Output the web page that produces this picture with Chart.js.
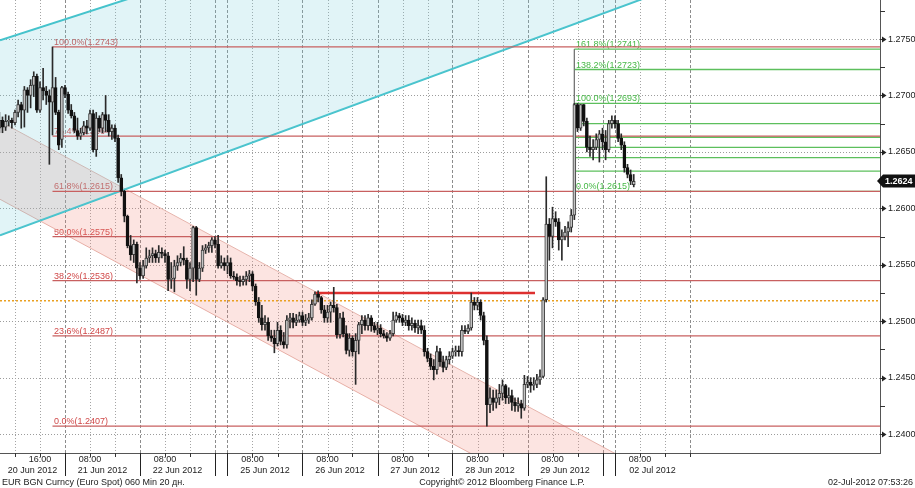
<!DOCTYPE html>
<html><head><meta charset="utf-8">
<script src="https://cdn.jsdelivr.net/npm/chart.js@4.4.1/dist/chart.umd.min.js"></script>
<style>html,body{margin:0;padding:0;background:#fff;overflow:hidden}canvas{display:block}</style>
</head><body>
<canvas id="c" width="915" height="488"></canvas>
<script>
// ---- DATA (EUR BGN Curncy, 60 min bars; hour index on the trading-time axis, 0 = 20 Jun 2012 00:00) ----
const FIRST_BAR_HOUR = 3;
const opens = [
1.2671,1.2678,1.2672,1.2677,1.2678,1.2676,1.2685,1.2692,1.2687,1.2705,
1.2700,1.2709,1.2717,1.2687,1.2707,1.2704,1.2700,1.2694,1.2707,1.2685,
1.2661,1.2707,1.2701,1.2687,1.2682,1.2669,1.2664,1.2667,1.2673,1.2671,
1.2684,1.2652,1.2680,1.2671,1.2683,1.2678,1.2668,1.2671,1.2662,1.2627,
1.2615,1.2593,1.2567,1.2559,1.2568,1.2547,1.2540,1.2549,1.2556,1.2558,
1.2560,1.2556,1.2561,1.2560,1.2558,1.2537,1.2538,1.2549,1.2552,1.2556,
1.2554,1.2537,1.2547,1.2583,1.2537,1.2547,1.2563,1.2565,1.2567,1.2572,
1.2568,1.2549,1.2552,1.2549,1.2552,1.2540,1.2539,1.2536,1.2535,1.2537,
1.2540,1.2542,1.2531,1.2517,1.2503,1.2497,1.2499,1.2487,1.2485,1.2480,
1.2492,1.2482,1.2479,1.2501,1.2503,1.2499,1.2501,1.2505,1.2499,1.2501,
1.2503,1.2515,1.2524,1.2521,1.2510,1.2503,1.2508,1.2514,1.2512,1.2488,
1.2503,1.2489,1.2474,1.2485,1.2473,1.2483,1.2497,1.2501,1.2496,1.2503,
1.2496,1.2492,1.2494,1.2489,1.2487,1.2485,1.2489,1.2501,1.2505,1.2503,
1.2499,1.2501,1.2496,1.2498,1.2494,1.2496,1.2492,1.2473,1.2467,1.2460,
1.2457,1.2473,1.2464,1.2459,1.2466,1.2469,1.2473,1.2474,1.2473,1.2492,
1.2491,1.2494,1.2517,1.2514,1.2517,1.2505,1.2483,1.2426,1.2432,1.2428,
1.2432,1.2436,1.2443,1.2432,1.2434,1.2428,1.2425,1.2427,1.2423,1.2444,
1.2446,1.2443,1.2444,1.2448,1.2451,1.2519,1.2586,1.2575,1.2591,1.2588,
1.2572,1.2575,1.2579,1.2583,1.2594,1.2692,1.2671,1.2692,1.2677,1.2654,
1.2652,1.2654,1.2661,1.2666,1.2659,1.2652,1.2675,1.2678,1.2675,1.2662,
1.2656,1.2636,1.2630,1.2621];
const highs = [
1.2685,1.2681,1.2683,1.2682,1.2680,1.2687,1.2696,1.2694,1.2708,1.2707,
1.2714,1.2721,1.2719,1.2712,1.2724,1.2708,1.2705,1.2743,1.2716,1.2687,
1.2708,1.2709,1.2703,1.2692,1.2685,1.2680,1.2671,1.2677,1.2678,1.2687,
1.2687,1.2685,1.2682,1.2685,1.2700,1.2683,1.2674,1.2674,1.2665,1.2630,
1.2616,1.2594,1.2576,1.2572,1.2570,1.2552,1.2554,1.2565,1.2563,1.2565,
1.2563,1.2567,1.2565,1.2563,1.2561,1.2552,1.2554,1.2558,1.2560,1.2566,
1.2556,1.2552,1.2584,1.2584,1.2552,1.2567,1.2568,1.2570,1.2574,1.2575,
1.2576,1.2558,1.2556,1.2558,1.2556,1.2544,1.2542,1.2540,1.2540,1.2544,
1.2545,1.2544,1.2533,1.2521,1.2514,1.2505,1.2503,1.2492,1.2492,1.2499,
1.2496,1.2490,1.2505,1.2507,1.2507,1.2506,1.2508,1.2508,1.2506,1.2507,
1.2519,1.2526,1.2527,1.2522,1.2514,1.2514,1.2517,1.2530,1.2515,1.2507,
1.2508,1.2496,1.2489,1.2487,1.2489,1.2499,1.2505,1.2505,1.2506,1.2505,
1.2499,1.2499,1.2497,1.2492,1.2490,1.2492,1.2508,1.2508,1.2507,1.2506,
1.2505,1.2505,1.2503,1.2501,1.2501,1.2501,1.2496,1.2476,1.2471,1.2466,
1.2478,1.2476,1.2469,1.2469,1.2473,1.2476,1.2478,1.2478,1.2496,1.2496,
1.2497,1.2525,1.2521,1.2521,1.2519,1.2508,1.2487,1.2441,1.2439,1.2439,
1.2444,1.2448,1.2444,1.2441,1.2439,1.2432,1.2432,1.2430,1.2452,1.2451,
1.2450,1.2450,1.2453,1.2457,1.2521,1.2628,1.2591,1.2601,1.2597,1.2591,
1.2581,1.2584,1.2588,1.2599,1.2693,1.2693,1.2692,1.2692,1.2680,1.2664,
1.2661,1.2666,1.2669,1.2671,1.2669,1.2678,1.2682,1.2682,1.2678,1.2666,
1.2659,1.2639,1.2634,1.2630];
const lows = [
1.2667,1.2667,1.2669,1.2673,1.2671,1.2674,1.2681,1.2671,1.2672,1.2685,
1.2689,1.2699,1.2685,1.2685,1.2696,1.2692,1.2639,1.2665,1.2683,1.2652,
1.2654,1.2698,1.2684,1.2680,1.2667,1.2661,1.2661,1.2665,1.2666,1.2669,
1.2650,1.2646,1.2668,1.2667,1.2668,1.2664,1.2661,1.2659,1.2623,1.2611,
1.2588,1.2565,1.2554,1.2552,1.2534,1.2537,1.2538,1.2547,1.2552,1.2552,
1.2552,1.2552,1.2556,1.2552,1.2527,1.2529,1.2526,1.2545,1.2549,1.2550,
1.2529,1.2527,1.2535,1.2523,1.2535,1.2544,1.2560,1.2561,1.2561,1.2565,
1.2547,1.2547,1.2545,1.2542,1.2538,1.2537,1.2532,1.2531,1.2532,1.2532,
1.2535,1.2527,1.2514,1.2499,1.2492,1.2492,1.2483,1.2482,1.2472,1.2478,
1.2479,1.2476,1.2476,1.2494,1.2494,1.2496,1.2499,1.2496,1.2496,1.2498,
1.2501,1.2514,1.2517,1.2507,1.2499,1.2499,1.2499,1.2508,1.2485,1.2485,
1.2486,1.2471,1.2469,1.2469,1.2444,1.2471,1.2489,1.2492,1.2492,1.2491,
1.2490,1.2488,1.2486,1.2485,1.2482,1.2483,1.2487,1.2499,1.2499,1.2496,
1.2496,1.2492,1.2492,1.2490,1.2489,1.2489,1.2469,1.2464,1.2457,1.2448,
1.2453,1.2460,1.2455,1.2457,1.2462,1.2467,1.2469,1.2469,1.2469,1.2489,
1.2489,1.2492,1.2510,1.2510,1.2501,1.2479,1.2407,1.2419,1.2421,1.2423,
1.2426,1.2430,1.2427,1.2427,1.2421,1.2420,1.2420,1.2414,1.2421,1.2441,
1.2437,1.2439,1.2441,1.2444,1.2450,1.2517,1.2554,1.2565,1.2584,1.2563,
1.2554,1.2572,1.2566,1.2579,1.2590,1.2668,1.2669,1.2673,1.2650,1.2646,
1.2643,1.2652,1.2641,1.2652,1.2643,1.2650,1.2671,1.2671,1.2659,1.2652,
1.2632,1.2627,1.2621,1.2619];
const closes = [
1.2678,1.2672,1.2677,1.2678,1.2676,1.2685,1.2692,1.2687,1.2705,1.2700,
1.2709,1.2717,1.2687,1.2707,1.2704,1.2700,1.2694,1.2707,1.2685,1.2656,
1.2707,1.2701,1.2687,1.2682,1.2669,1.2664,1.2667,1.2673,1.2671,1.2684,
1.2652,1.2680,1.2671,1.2683,1.2678,1.2668,1.2671,1.2662,1.2627,1.2615,
1.2593,1.2567,1.2559,1.2568,1.2547,1.2540,1.2549,1.2556,1.2558,1.2560,
1.2556,1.2561,1.2560,1.2558,1.2537,1.2538,1.2549,1.2552,1.2556,1.2554,
1.2537,1.2547,1.2583,1.2537,1.2547,1.2563,1.2565,1.2567,1.2572,1.2568,
1.2549,1.2552,1.2549,1.2552,1.2540,1.2539,1.2536,1.2535,1.2537,1.2540,
1.2542,1.2531,1.2517,1.2503,1.2497,1.2499,1.2487,1.2485,1.2480,1.2492,
1.2482,1.2479,1.2501,1.2503,1.2499,1.2501,1.2505,1.2499,1.2501,1.2503,
1.2515,1.2524,1.2521,1.2510,1.2503,1.2508,1.2514,1.2512,1.2488,1.2503,
1.2489,1.2474,1.2485,1.2473,1.2483,1.2497,1.2501,1.2496,1.2503,1.2496,
1.2492,1.2494,1.2489,1.2487,1.2485,1.2489,1.2501,1.2505,1.2503,1.2499,
1.2501,1.2496,1.2498,1.2494,1.2496,1.2492,1.2473,1.2467,1.2460,1.2457,
1.2473,1.2464,1.2459,1.2466,1.2469,1.2473,1.2474,1.2473,1.2492,1.2491,
1.2494,1.2517,1.2514,1.2517,1.2505,1.2483,1.2426,1.2432,1.2428,1.2432,
1.2436,1.2443,1.2432,1.2434,1.2428,1.2425,1.2427,1.2423,1.2444,1.2446,
1.2443,1.2444,1.2448,1.2451,1.2519,1.2586,1.2575,1.2591,1.2588,1.2572,
1.2575,1.2579,1.2583,1.2594,1.2692,1.2671,1.2692,1.2677,1.2654,1.2652,
1.2654,1.2661,1.2666,1.2659,1.2652,1.2675,1.2678,1.2675,1.2662,1.2656,
1.2636,1.2630,1.2624,1.2624];

// x-axis: trading days
const dayNames = ['20 Jun 2012','21 Jun 2012','22 Jun 2012','25 Jun 2012','26 Jun 2012','27 Jun 2012','28 Jun 2012','29 Jun 2012','02 Jul 2012'];
const dayStartHour = [0,24,48,76,100,124,148,172,200];
const dayEndHour = [24,48,72,100,124,148,172,196,224];
const dayTimeLabels = ['16:00','08:00','08:00','08:00','08:00','08:00','08:00','08:00','08:00'];
const dayTimeHour = [16,8,8,8,8,8,8,8,8];

// y-axis ticks
const priceTicks = [1.2400,1.2425,1.2450,1.2475,1.2500,1.2525,1.2550,1.2575,1.2600,1.2625,1.2650,1.2675,1.2700,1.2725,1.2750,1.2775];
const priceGrid = [1.2400,1.2450,1.2500,1.2550,1.2600,1.2650,1.2700,1.2750];

// Fibonacci retracement (red) and extension (green)
const redFibLevels = [1.2743,1.2664,1.2615,1.2575,1.2536,1.2487,1.2407];
const redFibLabels = ['100.0%(1.2743)','76.4%(1.2664)','61.8%(1.2615)','50.0%(1.2575)','38.2%(1.2536)','23.6%(1.2487)','0.0%(1.2407)'];
const redFibStartHour = 20;
const greenFibLevels = [1.2741,1.2723,1.2693,1.2675,1.2663,1.2654,1.2645,1.2633,1.2615];
const greenFibLabels = ['161.8%(1.2741)','138.2%(1.2723)','100.0%(1.2693)','','','','','','0.0%(1.2615)'];
const greenFibStartHour = 187;

// trend channels: [hour, price] endpoints
const cyanUpper = [[3.2,1.2749],[284.8,1.3000]];
const cyanLower = [[3.2,1.2576],[284.8,1.2863]];
const pinkUpper = [[3.2,1.2677],[284.8,1.2256]];
const pinkLower = [[3.2,1.2608],[284.8,1.2187]];

// horizontal levels
const resistanceLine = [[104.3,1.2525],[174.4,1.2525]];
const dottedLevel = 1.2518;

const footerLeft = 'EUR BGN Curncy (Euro Spot) 060 Min 20 дн.';
const footerMid = 'Copyright© 2012 Bloomberg Finance L.P.';
const footerRight = '02-Jul-2012 07:53:26';

// ---- CHART ----
const X_MIN = 3.2, X_MAX = 284.8, Y_MIN = 1.23832, Y_MAX = 1.27846;
const FONT = 'Liberation Sans, Arial, sans-serif';
const pts = arr => arr.map(p => ({x: p[0], y: p[1]}));
const hline = (h0, v) => [{x: h0, y: v}, {x: X_MAX, y: v}];

const bodies = opens.map((o, i) => ({x: FIRST_BAR_HOUR + i, y: [o, closes[i]]}));
const wicks = lows.map((l, i) => ({x: FIRST_BAR_HOUR + i, y: [l, highs[i]]}));
const isUp = i => closes[i] >= opens[i];

const lineDs = (data, color, width, order, extra) => Object.assign({
  type: 'line', data, borderColor: color, borderWidth: width, pointRadius: 0,
  tension: 0, fill: false, order
}, extra || {});

const datasets = [
  lineDs(pts(cyanUpper), '#45c3cc', 2, 6, {fill: '+1', backgroundColor: 'rgba(120,205,220,0.22)'}),
  lineDs(pts(cyanLower), '#45c3cc', 2, 6),
  lineDs(pts(pinkUpper), '#e6b4ac', 1, 7, {fill: '+1', backgroundColor: 'rgba(240,130,120,0.22)'}),
  lineDs(pts(pinkLower), '#e6b4ac', 1, 7),
];
redFibLevels.forEach(v => datasets.push(lineDs(hline(redFibStartHour, v), '#c86060', 1.3, 4)));
greenFibLevels.forEach(v => datasets.push(lineDs(hline(greenFibStartHour, v), '#5cbf5c', 1.3, 4)));
datasets.push(lineDs([{x: greenFibStartHour, y: greenFibLevels[0]}, {x: greenFibStartHour, y: greenFibLevels[greenFibLevels.length - 1]}], '#777', 1, 3));
datasets.push(lineDs(hline(X_MIN, dottedLevel), '#eaa020', 1.5, 4, {borderDash: [2, 2]}));
datasets.push(lineDs(pts(resistanceLine), '#dd3030', 2.5, 2));
datasets.push({type: 'bar', data: wicks, grouped: false, barThickness: 1, backgroundColor: '#2a2a2a', borderWidth: 0, order: 1});
datasets.push({type: 'bar', data: bodies, grouped: false, barThickness: 3, minBarLength: 1,
  backgroundColor: c => isUp(c.dataIndex) ? '#c4c4c4' : '#111',
  borderColor: c => isUp(c.dataIndex) ? '#3a3a3a' : '#111',
  borderWidth: 1, borderSkipped: false, order: 0});

function dayLines() {
  const out = [];
  dayStartHour.forEach((s, i) => {
    out.push({h: s, b: true});
    out.push({h: s + 8, b: false});
    out.push({h: s + 16, b: false});
    out.push({h: dayEndHour[i], b: true});
  });
  return out;
}

const bbPlugin = {
  id: 'bb',
  beforeDatasetsDraw(chart) {
    const {ctx, chartArea: a, scales: {x, y}} = chart;
    ctx.save();
    ctx.beginPath(); ctx.rect(a.left, a.top, a.right - a.left, a.bottom - a.top); ctx.clip();
    ctx.lineWidth = 1;
    ctx.strokeStyle = '#9c9c9c';
    ctx.setLineDash([1, 2]);
    priceGrid.forEach(v => {
      const py = Math.round(y.getPixelForValue(v)) + 0.5;
      ctx.beginPath(); ctx.moveTo(a.left, py); ctx.lineTo(a.right, py); ctx.stroke();
    });
    dayLines().forEach(d => {
      const px = Math.round(x.getPixelForValue(d.h)) + 0.5;
      ctx.setLineDash(d.b ? [3, 2] : [1, 2]);
      ctx.strokeStyle = d.b ? '#8c8c8c' : '#a4a4a4';
      ctx.beginPath(); ctx.moveTo(px, a.top); ctx.lineTo(px, a.bottom); ctx.stroke();
    });
    ctx.setLineDash([]);
    ctx.font = '9px ' + FONT;
    ctx.textBaseline = 'alphabetic';
    ctx.textAlign = 'left';
    ctx.fillStyle = '#d04848';
    redFibLevels.forEach((v, i) => {
      ctx.fillText(redFibLabels[i], x.getPixelForValue(redFibStartHour) + 1.5, y.getPixelForValue(v) - 2);
    });
    ctx.fillStyle = '#46b846';
    greenFibLevels.forEach((v, i) => {
      if (greenFibLabels[i]) ctx.fillText(greenFibLabels[i], x.getPixelForValue(greenFibStartHour) + 1.5, y.getPixelForValue(v) - 2);
    });
    ctx.restore();
  },
  afterDraw(chart) {
    const {ctx, chartArea: a, scales: {x, y}} = chart;
    ctx.save();
    // right axis marks
    ctx.fillStyle = '#222'; ctx.strokeStyle = '#333'; ctx.lineWidth = 1;
    priceTicks.forEach(v => {
      const py = Math.round(y.getPixelForValue(v)) + 0.5;
      const major = Math.round(v * 10000) % 50 === 0;
      if (major) {
        ctx.beginPath(); ctx.moveTo(a.right, py); ctx.lineTo(a.right + 3, py); ctx.stroke();
        ctx.beginPath(); ctx.moveTo(a.right + 2, py - 3); ctx.lineTo(a.right + 6.5, py); ctx.lineTo(a.right + 2, py + 3); ctx.closePath(); ctx.fill();
      } else {
        ctx.beginPath(); ctx.moveTo(a.right, py); ctx.lineTo(a.right + 5, py); ctx.stroke();
      }
    });
    // last price box
    const last = closes[closes.length - 1];
    const ly = Math.round(y.getPixelForValue(last));
    ctx.fillStyle = '#111';
    ctx.beginPath();
    ctx.moveTo(a.right - 3, ly); ctx.lineTo(a.right + 3, ly - 6.5); ctx.lineTo(915, ly - 6.5);
    ctx.lineTo(915, ly + 6.5); ctx.lineTo(a.right + 3, ly + 6.5); ctx.closePath(); ctx.fill();
    ctx.fillStyle = '#fff'; ctx.font = 'bold 9px ' + FONT; ctx.textAlign = 'left'; ctx.textBaseline = 'middle';
    ctx.fillText(last.toFixed(4), a.right + 5, ly + 0.5);
    // bottom axis
    ctx.strokeStyle = '#555';
    ctx.beginPath(); ctx.moveTo(a.left, a.bottom + 0.5); ctx.lineTo(a.right, a.bottom + 0.5); ctx.stroke();
    ctx.strokeStyle = '#333';
    dayLines().forEach(d => {
      const px = Math.round(x.getPixelForValue(d.h)) + 0.5;
      ctx.beginPath(); ctx.moveTo(px, a.bottom); ctx.lineTo(px, a.bottom + 4); ctx.stroke();
    });
    const seps = new Set();
    dayStartHour.forEach(h => { if (h > 0) seps.add(h); });
    dayEndHour.slice(0, -1).forEach(h => seps.add(h));
    ctx.strokeStyle = '#222';
    seps.forEach(h => {
      const px = Math.round(x.getPixelForValue(h)) + 0.5;
      ctx.beginPath(); ctx.moveTo(px, a.bottom); ctx.lineTo(px, a.bottom + 23); ctx.stroke();
    });
    ctx.fillStyle = '#222'; ctx.font = '9px ' + FONT; ctx.textAlign = 'center'; ctx.textBaseline = 'middle';
    dayNames.forEach((n, i) => {
      const tx = x.getPixelForValue(dayStartHour[i] + dayTimeHour[i]);
      ctx.fillText(dayTimeLabels[i], tx, a.bottom + 7);
      const l = Math.max(a.left, x.getPixelForValue(dayStartHour[i]));
      const r = x.getPixelForValue(dayEndHour[i]);
      ctx.fillText(n, (l + r) / 2, a.bottom + 18);
    });
    // footer
    const fy = a.bottom + 30;
    ctx.textAlign = 'left'; ctx.fillText(footerLeft, 2, fy);
    ctx.textAlign = 'center'; ctx.fillText(footerMid, 502, fy);
    ctx.textAlign = 'right'; ctx.fillText(footerRight, 913, fy);
    ctx.restore();
  }
};

new Chart(document.getElementById('c'), {
  type: 'bar',
  data: {datasets},
  options: {
    responsive: false, animation: false, devicePixelRatio: 1,
    layout: {padding: {left: 0, right: 0, top: 0, bottom: 35}},
    plugins: {legend: {display: false}, tooltip: {enabled: false}},
    scales: {
      x: {type: 'linear', min: X_MIN, max: X_MAX, display: false, offset: false},
      y: {
        type: 'linear', position: 'right', min: Y_MIN, max: Y_MAX,
        afterBuildTicks: s => { s.ticks = priceTicks.map(v => ({value: v})); },
        afterFit: s => { s.width = 35; s.paddingTop = 0; s.paddingBottom = 0; },
        grid: {drawOnChartArea: false, drawTicks: false},
        border: {display: true, color: '#555'},
        ticks: {
          autoSkip: false, padding: 8, color: '#222', font: {family: FONT, size: 9},
          callback: v => (Math.round(v * 10000) % 50 === 0 ? v.toFixed(4) : '')
        }
      }
    }
  },
  plugins: [bbPlugin]
});
</script>
</body></html>
